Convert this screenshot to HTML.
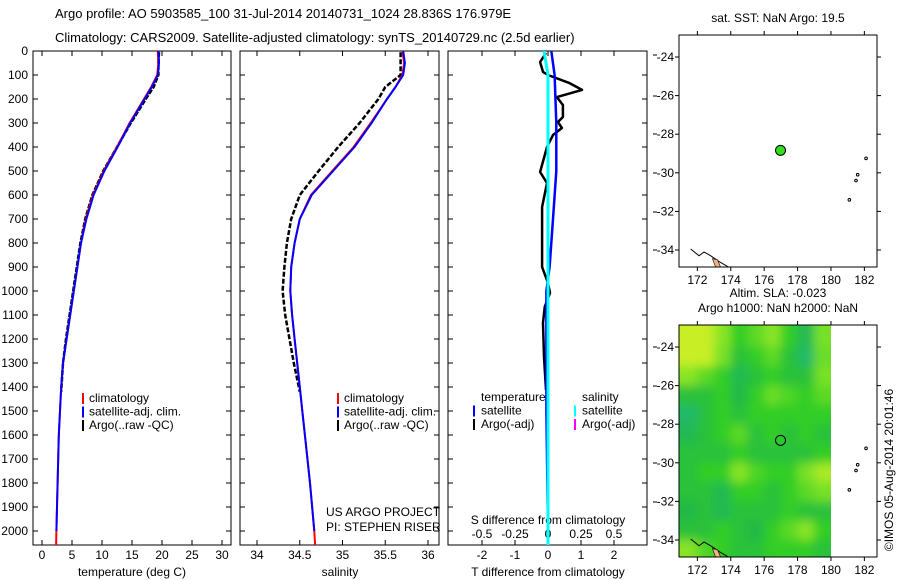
<!DOCTYPE html>
<html><head><meta charset="utf-8"><style>
html,body{margin:0;padding:0;background:#fff}
svg{display:block;font-family:"Liberation Sans",sans-serif}
</style></head><body>
<svg id="fig" width="900" height="580" viewBox="0 0 900 580">
<defs><filter id="blur" x="-5%" y="-5%" width="110%" height="110%"><feGaussianBlur stdDeviation="5"/></filter></defs>
<text x="55" y="18" font-size="13">Argo profile: AO 5903585_100 31-Jul-2014 20140731_1024 28.836S 176.979E</text>
<text x="55" y="42" font-size="13">Climatology: CARS2009. Satellite-adjusted climatology: synTS_20140729.nc (2.5d earlier)</text>
</svg>
<script>
// ---- data ----
const climDepth = [0,50,100,150,200,300,400,500,600,700,800,900,1000,1100,1200,1300,1400,1500,1600,1800,2000,2060];
const climT = [19.3,19.4,19.2,18.2,17.0,14.6,12.5,10.3,8.5,7.3,6.5,5.9,5.3,4.7,4.1,3.5,3.2,3.0,2.8,2.6,2.4,2.35];
const satT = [19.4,19.5,19.3,18.3,17.1,14.7,12.6,10.4,8.6,7.4,6.5,5.9,5.3,4.7,4.1,3.5,3.2,3.0,2.8,2.6,2.4,2.35];
const climS = [35.7,35.72,35.7,35.62,35.52,35.33,35.13,34.88,34.63,34.5,34.44,34.4,34.39,34.41,34.44,34.47,34.5,34.53,34.56,34.62,34.67,34.68];
const satS = [35.71,35.73,35.71,35.62,35.52,35.34,35.14,34.89,34.64,34.5,34.44,34.4,34.39,34.41,34.44,34.47,34.5,34.53,34.56,34.62,34.67,34.68];
const argoDepth = [5,50,100,150,200,300,400,500,600,700,800,900,1000,1100,1200,1300,1420];
const argoT = [19.5,19.4,19.4,18.6,17.3,14.8,12.5,10.2,8.4,7.2,6.4,5.8,5.2,4.6,4.0,3.5,3.2];
const argoS = [35.68,35.68,35.68,35.5,35.42,35.2,34.95,34.72,34.5,34.4,34.35,34.32,34.3,34.33,34.38,34.43,34.5];
const dTDepth = [8,46,87,100,133,162,192,225,275,296,321,350,400,504,550,650,817,900,967,1008,1067,1133,1275,1412];
const dT = [-0.06,-0.24,-0.15,0,0.64,1.03,0.27,0.45,0.45,0.3,0.42,0.15,-0.03,-0.24,-0.03,-0.18,-0.18,-0.18,0,0.06,-0.1,-0.15,-0.12,-0.06];
const satDiffDepth = [0,100,300,500,700,900,1000,1500,2000,2060];
const satDT = [0.1,0.2,0.25,0.25,0.15,0.05,-0.05,-0.05,0,0];
const satDS = [-0.03,0,0,0,0,0,0,0,0,0];
const depthTicks = [0,100,200,300,400,500,600,700,800,900,1000,1100,1200,1300,1400,1500,1600,1700,1800,1900,2000];
const tTicks = [0,5,10,15,20,25,30];
const sTicks = [34,34.5,35,35.5,36];
const dTTicks = [-2,-1,0,1,2];
const dSTicks = [-0.5,-0.25,0,0.25,0.5];
const dSTickLabels = ['-0.5','-0.25','0','0.25','0.5'];
const latTicks = [-24,-26,-28,-30,-32,-34];
const lonTicks = [172,174,176,178,180,182];
const argoLon = 176.979, argoLat = -28.836;
const slaLon0 = [171,172,173,174,175,176,177,178,179];
const slaLat0 = [-23,-24,-25,-26,-27,-28,-29,-30,-31,-32,-33,-34];
const slaGrid = [
[1,1,0.6,0,0.3,0.6,0,-0.6,0.5],
[1,1,0.5,-0.3,0,0.3,-0.3,-0.8,0.4],
[0.6,0.3,0,-0.6,-0.3,0,-0.3,-0.3,0.5],
[-0.3,-0.3,0,-0.5,0,0.4,0.2,0,0.3],
[-0.8,-0.3,0,-0.3,0,0,0,0,0],
[-0.6,-0.3,0,0.3,-0.3,0,-0.3,0,-0.3],
[-0.3,-0.3,-0.3,0,-0.3,-0.3,-0.3,-0.3,0],
[-0.3,0,0,0.6,0.2,0,0,0.5,0.8],
[-0.3,-0.3,-0.6,0,0,-0.3,0,0.3,0.5],
[-0.5,-0.3,-0.6,-0.3,-0.3,-0.3,0,-0.3,-0.3],
[-0.3,-0.3,0,-0.3,-0.5,0,0.3,0.6,0],
[0.6,0.2,0,-0.3,-0.3,0,0,0,-0.3]];

const NS='http://www.w3.org/2000/svg';
const svg=document.getElementById('fig');
function mk(tag,attrs,parent){const e=document.createElementNS(NS,tag);for(const k in attrs)e.setAttribute(k,attrs[k]);(parent||svg).appendChild(e);return e;}
function txt(x,y,s,size,anchor,parent){const t=mk('text',{x:x,y:y,'font-size':size,'text-anchor':anchor||'start'},parent);t.textContent=s;return t;}

const PT=51,PB=545;
const yD=d=>PT+d*0.24;
const panels=[
 {name:'temperature',x0:33,x1:231},
 {name:'salinity',x0:240,x1:439},
 {name:'difference',x0:448,x1:647}
];
const xT=v=>33+(v+1.5)*6;
const xS=v=>257+(v-34)*85.5;
const xDT=v=>548+v*33;
const xDS=v=>548+v*132;

panels.forEach(p=>{
 const g=mk('g',{});
 
 
 const r=mk('rect',{x:p.x0,y:PT,width:p.x1-p.x0,height:PB-PT,fill:'none',stroke:'#000','stroke-width':1},g);
 
 
 depthTicks.forEach(d=>{
  mk('line',{x1:p.x0,x2:p.x0+5,y1:yD(d),y2:yD(d),stroke:'#000'},g);
  mk('line',{x1:p.x1,x2:p.x1-5,y1:yD(d),y2:yD(d),stroke:'#000'},g);
 });
 p.g=g;
});
depthTicks.forEach(d=>{
 const t=txt(28,yD(d)+4,String(d),12,'end');
 
 
});
function xTicks(p,ticks,fx,labels,ly){
 ticks.forEach((v,i)=>{
  const x=fx(v);
  mk('line',{x1:x,x2:x,y1:PB,y2:PB-5,stroke:'#000'},p.g);
  mk('line',{x1:x,x2:x,y1:PT,y2:PT+5,stroke:'#000'},p.g);
  const t=txt(x,ly,labels?labels[i]:String(v),12,'middle',p.g);
  
  
 });
}
xTicks(panels[0],tTicks,xT,null,559);
xTicks(panels[1],sTicks,xS,null,559);
xTicks(panels[2],dTTicks,xDT,null,559);
dSTicks.forEach((v,i)=>{
 const x=xDS(v);
 mk('line',{x1:x,x2:x,y1:PB,y2:PB-4,stroke:'#000'},panels[2].g);
 const t=txt(x,538,dSTickLabels[i],12,'middle',panels[2].g);
 
 
});
let t;
t=txt(132,576,'temperature (deg C)',12,'middle');
t=txt(340,576,'salinity',12,'middle');
t=txt(548,576,'T difference from climatology',12,'middle');
t=txt(548,524,'S difference from climatology',12,'middle');
t=txt(326,516,'US ARGO PROJECT',12,'start');
t=txt(326,531,'PI: STEPHEN RISER',12,'start');
[55,96,134,173,212,250,347,386,424,463,502,540].forEach(y=>mk('line',{x1:653,x2:657,y1:y,y2:y,stroke:'#000'}));

function line(xs,ds,fx,color,w,dash,name,g){
 const pts=xs.map((v,i)=>fx(v).toFixed(1)+','+yD(ds[i]).toFixed(1)).join(' ');
 const a={points:pts,fill:'none',stroke:color,'stroke-width':w,'stroke-linejoin':'round'};
 if(dash)a['stroke-dasharray']=dash;
 const l=mk('polyline',a,g);
 
 
 return l;
}
const clipDefs=mk('defs',{});
panels.forEach((p,i)=>{const c=mk('clipPath',{id:'cp'+i},clipDefs);mk('rect',{x:p.x0,y:PT,width:p.x1-p.x0,height:PB-PT},c);});
const g0=mk('g',{'clip-path':'url(#cp0)'}),g1=mk('g',{'clip-path':'url(#cp1)'}),g2=mk('g',{'clip-path':'url(#cp2)'});
line(argoT,argoDepth,xT,'#000',2.5,'5,1.5','argo-temperature-line',g0);
line(climT,climDepth,xT,'#f00',2,null,'climatology-temperature-line',g0);
line(satT,climDepth.slice(0,21),xT,'#00f',2,null,'satellite-temperature-line',g0);
line(argoS,argoDepth,xS,'#000',2.5,'5,2','argo-salinity-line',g1);
line(climS,climDepth,xS,'#f00',2,null,'climatology-salinity-line',g1);
line(satS,climDepth.slice(0,21),xS,'#00f',2,null,'satellite-salinity-line',g1);
line(dT,dTDepth,xDT,'#000',2.5,null,'argo-t-diff-line',g2);
line(satDT,satDiffDepth,xDT,'#00f',2.5,null,'satellite-t-diff-line',g2);
line(satDS,satDiffDepth,xDS,'#0ff',3,null,'satellite-s-diff-line',g2);

function legend(x,y,items,name){
 const g=mk('g',{});
 
 
 items.forEach((it,i)=>{
  if(it.c)mk('rect',{x:x,y:y+i*13.5-9,width:2,height:11,fill:it.c},g);
  txt(x+it.o,y+i*13.5,it.t,12,'start',g);
 });
}
legend(82,402,[{c:'#f00',t:'climatology',o:7},{c:'#00f',t:'satellite-adj. clim.',o:7},{c:'#000',t:'Argo(..raw -QC)',o:7}],'temperature-legend');
legend(337,402,[{c:'#f00',t:'climatology',o:7},{c:'#00f',t:'satellite-adj. clim.',o:7},{c:'#000',t:'Argo(..raw -QC)',o:7}],'salinity-legend');
legend(473,401,[{c:null,t:'temperature',o:8},{c:'#00f',t:'satellite',o:8},{c:'#000',t:'Argo(-adj)',o:8}],'t-diff-legend');
legend(574,401,[{c:null,t:'salinity',o:8},{c:'#0ff',t:'satellite',o:8},{c:'#f0f',t:'Argo(-adj)',o:8}],'s-diff-legend');

// ---- maps ----
const MX0=679,MX1=877;
const lonX=l=>MX0+(l-170.9)*16.7;
function makeMap(top,name,title1,title2,withHeat){
 const bottom=top+232;
 const latY=la=>top+(-22.86-la)*19.3;
 const g=mk('g',{});
 
 
 const cid='mc'+top;
 const c=mk('clipPath',{id:cid},clipDefs);mk('rect',{x:MX0,y:top,width:MX1-MX0,height:bottom-top},c);
 const inner=mk('g',{'clip-path':'url(#'+cid+')'},g);
 if(withHeat){
  const hid='hc'+top;
  const hc=mk('clipPath',{id:hid},clipDefs);mk('rect',{x:MX0,y:top,width:lonX(180)-MX0,height:bottom-top},hc);
  const outer=mk('g',{'clip-path':'url(#'+hid+')'},inner);
  const heat=mk('g',{filter:'url(#blur)'},outer);
  const stops=[[-1,[30,185,130]],[-0.5,[35,185,70]],[0,[50,205,40]],[0.5,[120,225,40]],[1,[200,238,40]]];
  const col=v=>{for(let i=0;i<stops.length-1;i++){if(v<=stops[i+1][0]){const f=(v-stops[i][0])/(stops[i+1][0]-stops[i][0]);const a=stops[i][1],b=stops[i+1][1];return 'rgb('+a.map((q,k)=>Math.round(q+(b[k]-q)*f)).join(',')+')';}}return 'rgb(200,238,40)';};
  slaGrid.forEach((row,ri)=>row.forEach((v,ci)=>{
   const x0=ci===0?MX0-12:lonX(slaLon0[ci]),x1=ci===row.length-1?lonX(180)+12:lonX(slaLon0[ci]+1);
   const y0=ri===0?top-12:latY(slaLat0[ri]),y1=ri===slaGrid.length-1?bottom+12:latY(slaLat0[ri]-1);
   const r=mk('rect',{x:x0,y:y0,width:x1-x0+0.5,height:y1-y0+0.5,fill:col(v)},heat);
   
   
  }));
 }
 mk('polyline',{points:[lonX(171.6)+','+latY(-33.95),lonX(172.1)+','+latY(-34.3),lonX(172.4)+','+latY(-34.1),lonX(172.8)+','+latY(-34.3),lonX(173.3)+','+latY(-34.6),lonX(173.9)+','+latY(-34.9)].join(' '),fill:'none',stroke:'#000','stroke-width':1},inner);
 mk('polygon',{points:[lonX(172.9)+','+latY(-34.45),lonX(173.2)+','+latY(-34.5),lonX(173.4)+','+latY(-34.9),lonX(173.1)+','+latY(-34.9)].join(' '),fill:'#f4b080',stroke:'#000','stroke-width':0.6},inner);
 [[182.1,-29.25],[181.5,-30.4],[181.6,-30.1],[181.1,-31.4]].forEach(p=>mk('circle',{cx:lonX(p[0]),cy:latY(p[1]),r:1.3,fill:'none',stroke:'#000','stroke-width':1},inner));
 const fr=mk('rect',{x:MX0,y:top,width:MX1-MX0,height:bottom-top,fill:'none',stroke:'#000'},g);
 
 
 latTicks.forEach(la=>{
  const y=latY(la);
  mk('line',{x1:MX0-4,x2:MX0,y1:y,y2:y,stroke:'#000'},g);
  mk('line',{x1:MX1,x2:MX1+4,y1:y,y2:y,stroke:'#000'},g);
  const tt=txt(MX0-5,y+4,String(la),12,'end',g);
  
  
 });
 lonTicks.forEach(lo=>{
  const x=lonX(lo);
  mk('line',{x1:x,x2:x,y1:top-4,y2:top,stroke:'#000'},g);
  mk('line',{x1:x,x2:x,y1:bottom,y2:bottom+4,stroke:'#000'},g);
  const tt=txt(x,bottom+17,String(lo),12,'middle',g);
  
  
 });
 const tt1=txt(778,top-(title2?28:13),title1,12,'middle',g);
 
 
 if(title2){const tt2=txt(778,top-13,title2,12,'middle',g);}
 return {g:g,latY:latY};
}
const m1=makeMap(35,'sst-map','sat. SST: NaN Argo: 19.5',null,false);
const dot=mk('circle',{cx:lonX(argoLon),cy:m1.latY(argoLat),r:5,fill:'#33dd22',stroke:'#000','stroke-width':1});


const m2=makeMap(325,'sla-map','Altim. SLA: -0.023','Argo h1000: NaN h2000: NaN',true);
const ring=mk('circle',{cx:lonX(argoLon),cy:m2.latY(argoLat),r:5,fill:'none',stroke:'#000','stroke-width':1});


const stamp=txt(0,0,'©IMOS 05-Aug-2014 20:01:46',12,'middle');
stamp.setAttribute('transform','translate(893,470) rotate(-90)');


</script>
</body></html>
